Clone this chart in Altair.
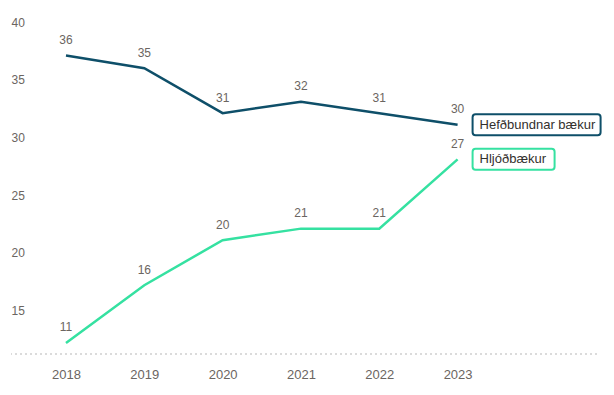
import altair as alt
import pandas as pd

years = [2018, 2019, 2020, 2021, 2022, 2023]
series_names = ["Hefðbundnar bækur", "Hljóðbækur"]
# line positions as read against the y axis
hefd_values = [37.1, 36.0, 32.1, 33.1, 32.1, 31.1]
hljod_values = [12.2, 17.2, 21.1, 22.1, 22.1, 28.1]
# data labels as printed on the chart
hefd_labels = ["36", "35", "31", "32", "31", "30"]
hljod_labels = ["11", "16", "20", "21", "21", "27"]
y_ticks = [15, 20, 25, 30, 35, 40]
colors = ["#0E4F69", "#35E1A1"]

rows = []
for name, vals, labs in [(series_names[0], hefd_values, hefd_labels),
                         (series_names[1], hljod_values, hljod_labels)]:
    for yr, v, l in zip(years, vals, labs):
        rows.append({"year": yr, "value": v, "label": l, "series": name})
df = pd.DataFrame(rows)
last = df[df.year == years[-1]]

FONT = "Liberation Sans"
LABEL_COLOR = "#6b6561"
Y_MIN = 11.24

x = alt.X("year:Q",
          scale=alt.Scale(domain=[2017.298, 2024.78], nice=False, zero=False),
          axis=alt.Axis(values=years, format="d", grid=False, domain=False, ticks=False,
                        labelFontSize=13, labelColor=LABEL_COLOR, labelFont=FONT,
                        labelPadding=14, labelFlush=False, title=None))
y = alt.Y("value:Q",
          scale=alt.Scale(domain=[Y_MIN, 40], nice=False, zero=False),
          axis=alt.Axis(values=y_ticks, grid=False, domain=False, ticks=False,
                        labelAlign="left", labelPadding=0, labelFontSize=12,
                        labelColor=LABEL_COLOR, labelFont=FONT, labelFlush=False,
                        title=None))
color = alt.Color("series:N", scale=alt.Scale(domain=series_names, range=colors), legend=None)

base = alt.Chart(df)

lines = base.mark_line(strokeWidth=2.5).encode(x=x, y=y, color=color)

baseline = alt.Chart(pd.DataFrame({"value": [Y_MIN]})).mark_rule(
    strokeDash=[2, 3], color="#cfcfcf", strokeWidth=1.5
).encode(y="value:Q")

labels = base.mark_text(dy=-15.5, fontSize=12, font=FONT, color=LABEL_COLOR).encode(
    x="year:Q", y="value:Q", text="label:N")

box_widths = [128, 82]
boxes = []
for name, col, w in zip(series_names, colors, box_widths):
    boxes.append(
        alt.Chart(last[last.series == name]).mark_rect(
            xOffset=15, x2Offset=15 + w, yOffset=-10.5, y2Offset=10.5,
            fill="white", stroke=col, strokeWidth=2, cornerRadius=3
        ).encode(x="year:Q", x2=alt.X2("year"), y="value:Q", y2=alt.Y2("value"))
    )

box_text = alt.Chart(last).mark_text(
    align="left", baseline="middle", dx=22, fontSize=13, font=FONT, color="#33302d"
).encode(x="year:Q", y="value:Q", text="series:N")

chart = alt.layer(lines, baseline, labels, *boxes, box_text).properties(
    width=586, height=332,
    padding={"left": 3, "top": 14, "right": 9, "bottom": 33},
    autosize=alt.AutoSizeParams(type="none"),
).configure_view(stroke=None)

chart.save("out.html", embed_options={"renderer": "svg", "actions": False})
